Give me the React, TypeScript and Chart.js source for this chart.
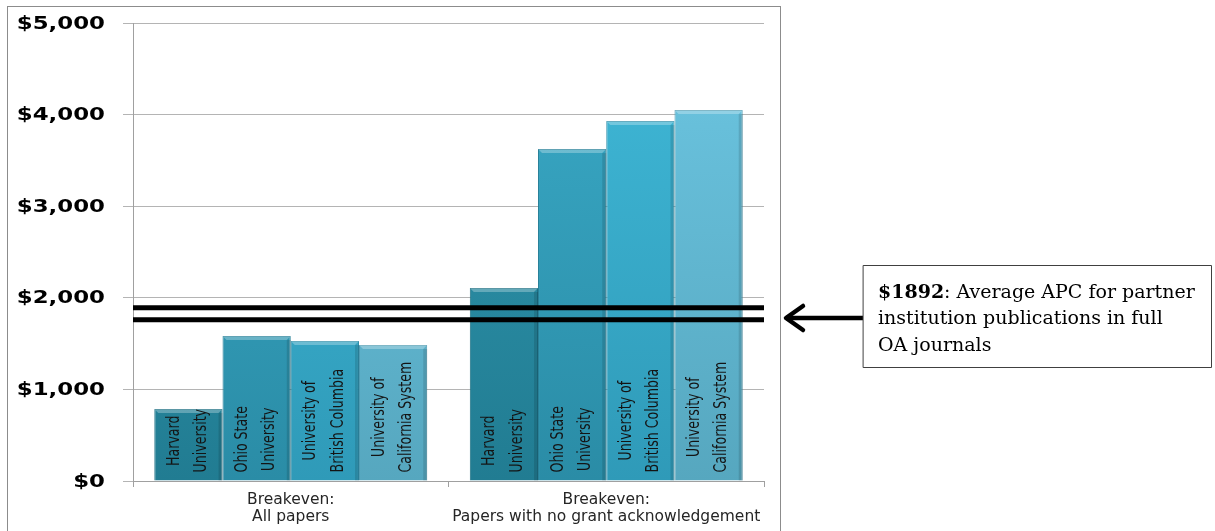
import React, { useEffect, useRef } from "react";
import { Chart, registerables } from "chart.js";

Chart.register(...registerables);

// ---- data ----
const groupLabels: string[][] = [
  ["Breakeven:", "All papers"],
  ["Breakeven:", "Papers with no grant acknowledgement"],
];
const institutionNames: string[][] = [
  ["Harvard", "University"],
  ["Ohio State", "University"],
  ["University of", "British Columbia"],
  ["University of", "California System"],
];
const harvardValues = [786, 2107];
const ohioStateValues = [1583, 3624];
const ubcValues = [1528, 3930];
const ucSystemValues = [1485, 4050];
const referenceLineValues = [1892, 1760];
const yTickValues = [0, 1000, 2000, 3000, 4000, 5000];
const yTickLabels = ["$0", "$1,000", "$2,000", "$3,000", "$4,000", "$5,000"];
const noteBold = "$1892";
const noteLines = [": Average APC for partner", "institution publications in full", "OA journals"];

// ---- styles ----
const barTop = ["#3199b1", "#3aaac7", "#40b9d8", "#6cc6e2"];
const barBottom = ["#217c92", "#2a8ca6", "#2f9ab8", "#56a7bf"];
const barBorder = ["#1d6f83", "#257f97", "#2a8ca8", "#4f9bb2"];

const series = [harvardValues, ohioStateValues, ubcValues, ucSystemValues];

export default function App() {
  const canvasRef = useRef<HTMLCanvasElement | null>(null);

  useEffect(() => {
    const canvas = canvasRef.current;
    if (!canvas) return;

    const decor = {
      id: "decor",
      beforeDraw(chart: any) {
        const ctx = chart.ctx;
        ctx.save();
        ctx.fillStyle = "#ffffff";
        ctx.fillRect(0, 0, chart.width, chart.height);
        ctx.strokeStyle = "#8c8c8c";
        ctx.lineWidth = 1;
        ctx.strokeRect(7.5, 6.5, 773, 560);
        ctx.restore();
      },
      afterDatasetsDraw(chart: any) {
        const ctx = chart.ctx;
        const yScale = chart.scales.y;
        const area = chart.chartArea;
        ctx.save();
        chart.data.datasets.forEach((ds: any, di: number) => {
          const meta = chart.getDatasetMeta(di);
          meta.data.forEach((el: any) => {
            const w = el.width;
            const left = el.x - w / 2;
            ctx.fillStyle = "rgba(255,255,255,0.28)";
            ctx.beginPath();
            ctx.moveTo(left, el.y);
            ctx.lineTo(left + w, el.y);
            ctx.lineTo(left + w - 4, el.y + 4);
            ctx.lineTo(left + 4, el.y + 4);
            ctx.closePath();
            ctx.fill();
            ctx.fillStyle = "rgba(0,0,0,0.12)";
            ctx.fillRect(left + w - 4, el.y + 4, 4, el.base - el.y - 4);

            const lines = institutionNames[di];
            ctx.font = '14px "Liberation Sans Narrow", "DejaVu Sans Condensed", sans-serif';
            const maxW = Math.max(...lines.map((l) => ctx.measureText(l).width));
            const cy = el.base - 8 - maxW / 2;
            ctx.save();
            ctx.translate(el.x, cy);
            ctx.rotate(-Math.PI / 2);
            ctx.scale(1, 1.22);
            ctx.fillStyle = "#141414";
            ctx.textAlign = "center";
            ctx.textBaseline = "middle";
            ctx.fillText(lines[0], 0, -11.5);
            ctx.fillText(lines[1], 0, 11);
            ctx.restore();
          });
        });
        ctx.strokeStyle = "#000000";
        ctx.lineWidth = 5;
        referenceLineValues.forEach((v) => {
          const y = yScale.getPixelForValue(v);
          ctx.beginPath();
          ctx.moveTo(area.left, y);
          ctx.lineTo(area.right, y);
          ctx.stroke();
        });
        ctx.restore();
      },
      afterDraw(chart: any) {
        const ctx = chart.ctx;
        const yScale = chart.scales.y;
        ctx.save();
        ctx.fillStyle = "#000000";
        ctx.font = 'bold 18px "DejaVu Sans", sans-serif';
        ctx.textAlign = "right";
        ctx.textBaseline = "middle";
        yTickValues.forEach((v, i) => {
          const y = yScale.getPixelForValue(v);
          ctx.save();
          ctx.translate(105, y + 1);
          ctx.scale(1.27, 1);
          ctx.fillText(yTickLabels[i], 0, 0);
          ctx.restore();
        });

        const ay = 318;
        ctx.strokeStyle = "#000000";
        ctx.lineWidth = 4.5;
        ctx.lineCap = "butt";
        ctx.beginPath();
        ctx.moveTo(863, ay);
        ctx.lineTo(786, ay);
        ctx.stroke();
        ctx.lineCap = "round";
        ctx.lineJoin = "round";
        ctx.beginPath();
        ctx.moveTo(803, ay - 12);
        ctx.lineTo(786, ay);
        ctx.lineTo(803, ay + 12);
        ctx.stroke();

        ctx.lineWidth = 1;
        ctx.strokeStyle = "#404040";
        ctx.fillStyle = "#ffffff";
        ctx.fillRect(863.5, 265.5, 348, 102);
        ctx.strokeRect(863.5, 265.5, 348, 102);
        ctx.fillStyle = "#000000";
        ctx.textAlign = "left";
        ctx.textBaseline = "alphabetic";
        const tx = 878;
        ctx.font = 'bold 19px "DejaVu Serif", "Liberation Serif", serif';
        ctx.fillText(noteBold, tx, 298);
        const bw = ctx.measureText(noteBold).width;
        ctx.font = '19px "DejaVu Serif", "Liberation Serif", serif';
        ctx.fillText(noteLines[0], tx + bw, 298);
        ctx.fillText(noteLines[1], tx, 324);
        ctx.fillText(noteLines[2], tx, 351);
        ctx.restore();
      },
    };

    const makeGradient = (i: number) => (c: any) => {
      const area = c.chart.chartArea;
      if (!area) return barTop[i];
      const g = c.chart.ctx.createLinearGradient(0, area.top, 0, area.bottom);
      g.addColorStop(0, barTop[i]);
      g.addColorStop(1, barBottom[i]);
      return g;
    };

    const chart = new Chart(canvas, {
      type: "bar",
      data: {
        labels: groupLabels as any,
        datasets: series.map((vals, i) => ({
          label: institutionNames[i].join(" "),
          data: vals,
          backgroundColor: makeGradient(i),
          borderColor: barBorder[i],
          borderWidth: 1,
          categoryPercentage: 0.865,
          barPercentage: 1,
        })),
      },
      options: {
        responsive: false,
        animation: false,
        layout: { padding: { left: 0, top: 23, right: 451, bottom: 0 } },
        plugins: {
          legend: { display: false },
          tooltip: { enabled: false },
        },
        scales: {
          x: {
            type: "category",
            offset: true,
            grid: {
              display: true,
              offset: true,
              drawOnChartArea: false,
              drawTicks: true,
              tickLength: 6,
              color: "#a0a0a0",
            },
            border: { display: true, color: "#a0a0a0", width: 1 },
            ticks: {
              color: "#262626",
              font: { family: '"DejaVu Sans", sans-serif', size: 15.5, lineHeight: 1.1 },
              padding: 4,
              maxRotation: 0,
              autoSkip: false,
            },
            afterFit: (scale: any) => {
              scale.height = 50;
            },
          },
          y: {
            min: 0,
            max: 5000,
            ticks: { stepSize: 1000, display: false },
            grid: {
              color: "#b4b4b4",
              lineWidth: 1,
              drawTicks: true,
              tickLength: 10,
            },
            border: { display: true, color: "#a0a0a0", width: 1 },
            afterFit: (scale: any) => {
              scale.width = 133;
            },
          },
        },
      },
      plugins: [decor],
    });

    return () => chart.destroy();
  }, []);

  return (
    <div style={{ position: "absolute", left: 0, top: 0, width: 1215, height: 531, background: "#fff" }}>
      <canvas ref={canvasRef} width={1215} height={531} style={{ display: "block" }} />
    </div>
  );
}
